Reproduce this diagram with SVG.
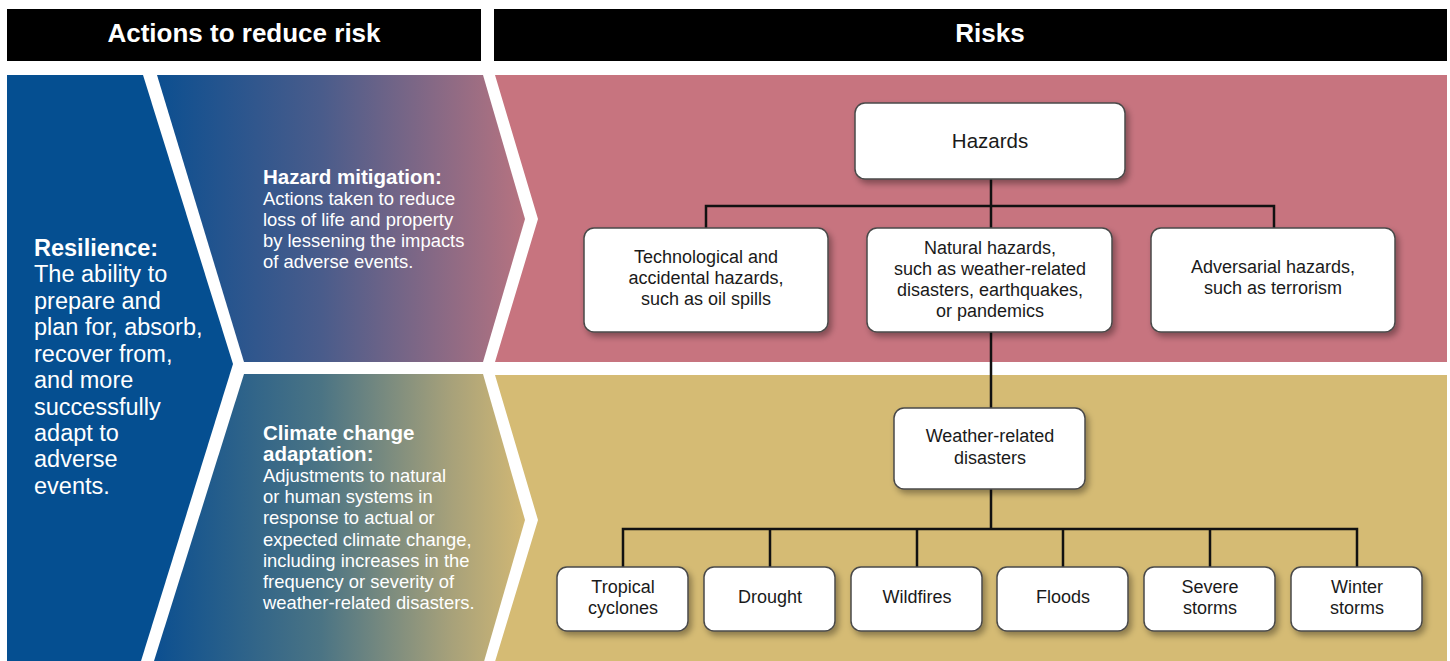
<svg xmlns="http://www.w3.org/2000/svg" width="1450" height="661" viewBox="0 0 1450 661">
<style>
.hdr{fill:#000}
.hdrt{font-family:"Liberation Sans",Arial,sans-serif;font-weight:bold;font-size:26px;fill:#fff;text-anchor:middle}
.wt{font-family:"Liberation Sans",Arial,sans-serif;fill:#fff}
.res{font-size:23.5px}
.bh{font-size:20.5px;font-weight:bold}
.bd{font-size:18.4px}
.box{fill:#fff;stroke:#4a4a4a;stroke-width:1.5;filter:url(#sh)}
.bt{font-family:"Liberation Sans",Arial,sans-serif;font-size:18px;fill:#1a1a1a;text-anchor:middle}
.big{font-size:20.5px}
.con{fill:none;stroke:#111;stroke-width:2.5}
</style>
<defs>
<filter id="sh" x="-20%" y="-20%" width="140%" height="150%">
<feDropShadow dx="3" dy="4" stdDeviation="3" flood-color="#000" flood-opacity="0.35"/>
</filter>
<linearGradient id="gHaz" gradientUnits="userSpaceOnUse" x1="157" y1="0" x2="525" y2="0">
<stop offset="0" stop-color="#0c4f90"/>
<stop offset="0.45" stop-color="#4a5c8b"/>
<stop offset="1" stop-color="#b77380"/>
</linearGradient>
<linearGradient id="gCli" gradientUnits="userSpaceOnUse" x1="155" y1="0" x2="525" y2="0">
<stop offset="0" stop-color="#0c4f90"/>
<stop offset="0.45" stop-color="#4b7484"/>
<stop offset="0.8" stop-color="#a7a17a"/>
<stop offset="1" stop-color="#d2b874"/>
</linearGradient>
</defs>
<rect width="1450" height="661" fill="#fff"/>

<g id="header-actions">
<rect class="hdr" x="7" y="9" width="474" height="52"/>
<text class="hdrt" x="244" y="42">Actions to reduce risk</text>
</g>
<g id="header-risks">
<rect class="hdr" x="494" y="9" width="953" height="52"/>
<text class="hdrt" x="990" y="42">Risks</text>
</g>

<g id="region-pink">
<polygon points="495,75 1447,75 1447,362 495,362 538,219" fill="#c7747f"/>
</g>
<g id="region-yellow">
<polygon points="495,375 1447,375 1447,661 494,665 538,520" fill="#d5bb74"/>
</g>

<g id="resilience">
<polygon points="7,75 143,75 233,364 141,661 7,661" fill="#054f91"/>
<text class="wt res" x="34" y="256"><tspan font-weight="bold">Resilience:</tspan><tspan x="34" y="282">The ability to</tspan><tspan x="34" y="309">prepare and</tspan><tspan x="34" y="335">plan for, absorb,</tspan><tspan x="34" y="362">recover from,</tspan><tspan x="34" y="388">and more</tspan><tspan x="34" y="415">successfully</tspan><tspan x="34" y="441">adapt to</tspan><tspan x="34" y="467">adverse</tspan><tspan x="34" y="494">events.</tspan></text>
</g>

<g id="hazard-mitigation">
<polygon points="157,75 483,75 525,219 483,362 244,362" fill="url(#gHaz)"/>
<text class="wt bh" x="263" y="184">Hazard mitigation:</text>
<text class="wt bd" x="263" y="205">Actions taken to reduce<tspan x="263" y="226">loss of life and property</tspan><tspan x="263" y="247">by lessening the impacts</tspan><tspan x="263" y="268">of adverse events.</tspan></text>
</g>

<g id="climate-adaptation">
<polygon points="244,374 483,374 525,520 483,665 154,661" fill="url(#gCli)"/>
<text class="wt bh" x="263" y="440">Climate change<tspan x="263" y="461">adaptation:</tspan></text>
<text class="wt bd" x="263" y="482">Adjustments to natural<tspan x="263" y="503">or human systems in</tspan><tspan x="263" y="524">response to actual or</tspan><tspan x="263" y="546">expected climate change,</tspan><tspan x="263" y="567">including increases in the</tspan><tspan x="263" y="588">frequency or severity of</tspan><tspan x="263" y="609">weather-related disasters.</tspan></text>
</g>

<g id="connectors">
<path class="con" d="M991 179 V228 M706 228 V206 H1274 V228"/>
<path class="con" d="M991 332 V408"/>
<path class="con" d="M991 489 V529 M623 567 V529 H1357 V567 M770 529 V567 M917 529 V567 M1063 529 V567 M1210 529 V567"/>
</g>

<g id="hazards">
<rect class="box" x="855" y="103" width="270" height="76" rx="10"/>
<text class="bt big" x="990" y="148">Hazards</text>
</g>
<g id="technological">
<rect class="box" x="584" y="228" width="244" height="104" rx="10"/>
<text class="bt" x="706" y="263">Technological and<tspan x="706" y="284">accidental hazards,</tspan><tspan x="706" y="305">such as oil spills</tspan></text>
</g>
<g id="natural">
<rect class="box" x="867" y="228" width="245" height="104" rx="10"/>
<text class="bt" x="990" y="254">Natural hazards,<tspan x="990" y="275">such as weather-related</tspan><tspan x="990" y="296">disasters, earthquakes,</tspan><tspan x="990" y="317">or pandemics</tspan></text>
</g>
<g id="adversarial">
<rect class="box" x="1151" y="228" width="244" height="104" rx="10"/>
<text class="bt" x="1273" y="273">Adversarial hazards,<tspan x="1273" y="294">such as terrorism</tspan></text>
</g>
<g id="weather">
<rect class="box" x="894" y="408" width="191" height="81" rx="10"/>
<text class="bt" x="990" y="442">Weather-related<tspan x="990" y="464">disasters</tspan></text>
</g>
<g id="tropical">
<rect class="box" x="557" y="567" width="131" height="64" rx="10"/>
<text class="bt" x="623" y="593">Tropical<tspan x="623" y="614">cyclones</tspan></text>
</g>
<g id="drought">
<rect class="box" x="704" y="567" width="131" height="64" rx="10"/>
<text class="bt" x="770" y="603">Drought</text>
</g>
<g id="wildfires">
<rect class="box" x="851" y="567" width="131" height="64" rx="10"/>
<text class="bt" x="917" y="603">Wildfires</text>
</g>
<g id="floods">
<rect class="box" x="997" y="567" width="131" height="64" rx="10"/>
<text class="bt" x="1063" y="603">Floods</text>
</g>
<g id="severe">
<rect class="box" x="1144" y="567" width="131" height="64" rx="10"/>
<text class="bt" x="1210" y="593">Severe<tspan x="1210" y="614">storms</tspan></text>
</g>
<g id="winter">
<rect class="box" x="1291" y="567" width="131" height="64" rx="10"/>
<text class="bt" x="1357" y="593">Winter<tspan x="1357" y="614">storms</tspan></text>
</g>
</svg>
